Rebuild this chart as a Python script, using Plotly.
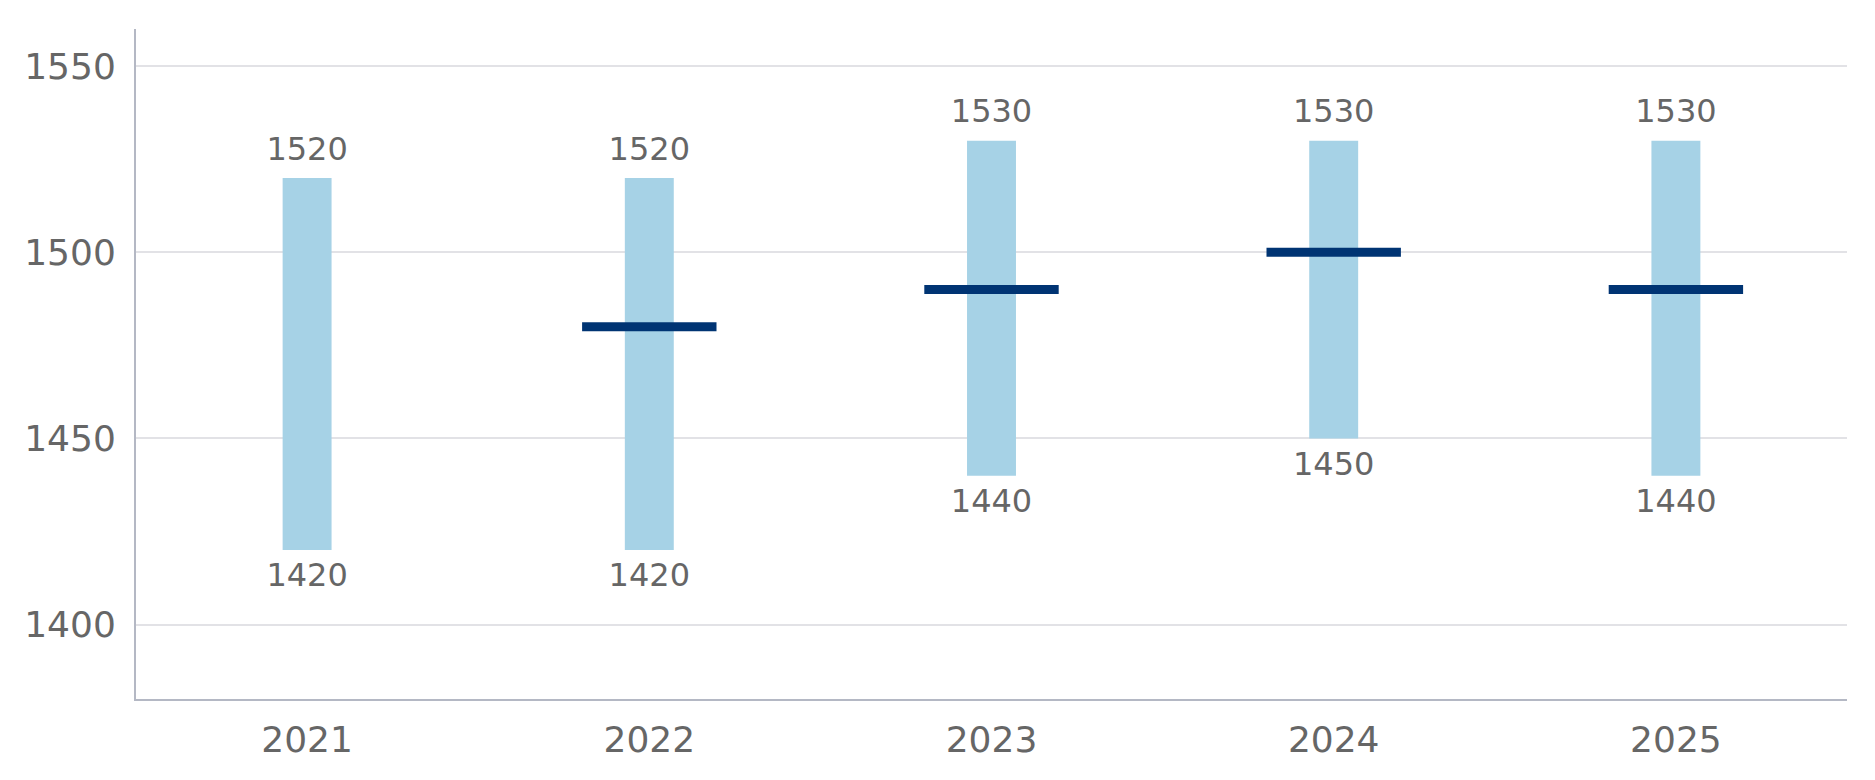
import plotly.graph_objects as go

years = ["2021", "2022", "2023", "2024", "2025"]
low = [1420, 1420, 1440, 1450, 1440]
high = [1520, 1520, 1530, 1530, 1530]
median = [None, 1480, 1490, 1500, 1490]

BAR_COLOR = "#A6D2E6"
MEDIAN_COLOR = "#003473"
TEXT_COLOR = "#666666"
FONT = "DejaVu Sans"

fig = go.Figure()

# range bars (low -> high)
fig.add_trace(go.Bar(x=years, y=[h - l for h, l in zip(high, low)], base=low,
                     width=0.143, marker_color=BAR_COLOR, marker_line_width=0,
                     hoverinfo="skip"))

# median dash
fig.add_trace(go.Scatter(x=years, y=median, mode="markers",
                         marker=dict(symbol="line-ew-open", size=96, color=MEDIAN_COLOR,
                                     line=dict(width=9, color=MEDIAN_COLOR)),
                         hoverinfo="skip"))

# value labels above and below (invisible markers push the text off the bar ends)
fig.add_trace(go.Scatter(x=years, y=high, mode="markers+text", text=[str(v) for v in high],
                         textposition="top center",
                         marker=dict(size=15, opacity=0),
                         textfont=dict(family=FONT, size=32, color=TEXT_COLOR),
                         hoverinfo="skip"))
fig.add_trace(go.Scatter(x=years, y=low, mode="markers+text", text=[str(v) for v in low],
                         textposition="bottom center",
                         marker=dict(size=18, opacity=0),
                         textfont=dict(family=FONT, size=32, color=TEXT_COLOR),
                         hoverinfo="skip"))

fig.update_layout(
    showlegend=False,
    plot_bgcolor="white",
    paper_bgcolor="white",
    margin=dict(l=128, r=20, t=21, b=70),
    font=dict(family=FONT, color=TEXT_COLOR),
)
fig.update_xaxes(type="category", range=[-0.5, 4.5], showgrid=False,
                 showline=True, linecolor="#B4B8C4", linewidth=2,
                 tickfont=dict(size=36, color=TEXT_COLOR), ticks="",
                 ticklabelstandoff=8)
fig.update_yaxes(range=[1380, 1560], tickvals=[1400, 1450, 1500, 1550],
                 showgrid=True, gridcolor="#E2E2E6", gridwidth=2,
                 showline=True, linecolor="#B4B8C4", linewidth=2,
                 zeroline=False, ticks="",
                 tickfont=dict(size=36, color=TEXT_COLOR),
                 ticklabelstandoff=11)

fig.write_html("out.html")
